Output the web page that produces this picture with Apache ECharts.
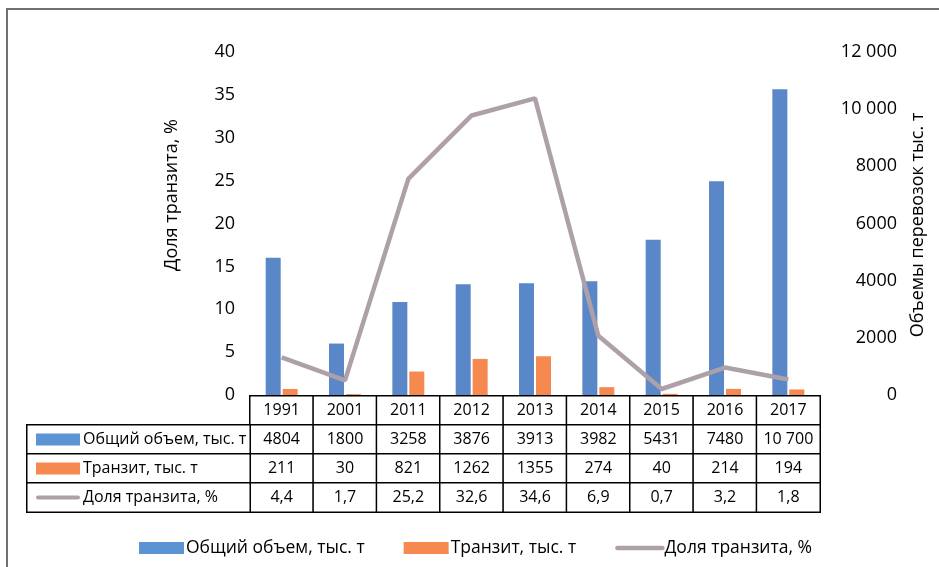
<!DOCTYPE html>
<html>
<head>
<meta charset="utf-8">
<script src="https://cdn.jsdelivr.net/npm/echarts@6/dist/echarts.min.js"></script>
<style>html,body{margin:0;padding:0;background:#fff}#c{width:939px;height:567px}</style>
</head>
<body>
<div id="c"></div>
<script>
const years = ['1991','2001','2011','2012','2013','2014','2015','2016','2017'];
const totalVolume = [4804, 1800, 3258, 3876, 3913, 3982, 5431, 7480, 10700];
const transitVolume = [211, 30, 821, 1262, 1355, 274, 40, 214, 194];
const transitShare = [4.4, 1.7, 25.2, 32.6, 34.6, 6.9, 0.7, 3.2, 1.8];
const seriesNames = ['Общий объем, тыс. т', 'Транзит, тыс. т', 'Доля транзита, %'];
const leftAxisTitle = 'Доля транзита, %';
const rightAxisTitle = 'Объемы перевозок тыс. т';
const leftTicks = [0, 5, 10, 15, 20, 25, 30, 35, 40];
const rightTicks = [0, 2000, 4000, 6000, 8000, 10000, 12000];

const FONT = 'Open Sans';
const BLUE = '#5A87C7';
const BLUE_L = '#5B93D3';
const ORANGE = '#F5894F';
const GRAY = '#ADA0A8';

function fmtThousands(v) {
  return v >= 10000 ? String(v).replace(/\B(?=(\d{3})+(?!\d))/g, ' ') : String(v);
}
function fmtDec(v) { return String(v).replace('.', ','); }

const rows = [
  years,
  totalVolume.map(fmtThousands),
  transitVolume.map(String),
  transitShare.map(fmtDec)
];
const tableData = [];
rows.forEach((r, ri) => r.forEach((_, ci) => tableData.push([ci, ri, ri])));
const headerData = [[0, 0, 0], [0, 1, 1], [0, 2, 2]];

const chart = echarts.init(document.getElementById('c'));
chart.setOption({
  animation: false,
  textStyle: { fontFamily: FONT },
  graphic: [
    { type: 'rect', shape: { x: 7, y: 9, width: 1000, height: 1000 }, style: { fill: 'none', stroke: '#707070', lineWidth: 2 }, silent: true },
    { type: 'text', x: 172, y: 195, rotation: Math.PI / 2, style: { text: leftAxisTitle, font: '18px "Open Sans"', fill: '#000', textAlign: 'center', textVerticalAlign: 'middle' } },
    { type: 'text', x: 918, y: 225, rotation: Math.PI / 2, style: { text: rightAxisTitle, font: '18px "Open Sans"', fill: '#000', textAlign: 'center', textVerticalAlign: 'middle' } }
  ],
  legend: {
    left: 139, top: 539, padding: 0,
    itemWidth: 45, itemHeight: 12, itemGap: 39,
    textStyle: { fontSize: 17.5, color: '#000', fontFamily: FONT, padding: [0, 0, 0, -3] },
    data: [
      { name: seriesNames[0], icon: 'rect', itemStyle: { color: BLUE_L } },
      { name: seriesNames[1], icon: 'rect', itemStyle: { color: ORANGE } },
      { name: seriesNames[2], itemStyle: { color: 'rgba(0,0,0,0)', borderColor: 'rgba(0,0,0,0)', borderWidth: 0 },
        lineStyle: { color: GRAY, width: 4.5, cap: 'round' } }
    ]
  },
  grid: [
    { left: 250, right: 119, top: 52, bottom: 172 },
    { left: 250, right: 119, top: 396, height: 116 },
    { left: 27, width: 223, top: 425, height: 87 }
  ],
  xAxis: [
    { type: 'category', data: years, gridIndex: 0, axisLine: { show: false }, axisTick: { show: false }, axisLabel: { show: false } },
    { type: 'category', data: years, gridIndex: 1, show: false },
    { type: 'category', data: ['h'], gridIndex: 2, show: false }
  ],
  yAxis: [
    { type: 'value', gridIndex: 0, min: leftTicks[0], max: leftTicks[leftTicks.length - 1], interval: leftTicks[1] - leftTicks[0],
      axisLine: { show: false }, axisTick: { show: false }, splitLine: { show: false },
      axisLabel: { fontSize: 18, color: '#000', margin: 15, fontFamily: FONT } },
    { type: 'value', gridIndex: 0, position: 'right', min: rightTicks[0], max: rightTicks[rightTicks.length - 1], interval: rightTicks[1] - rightTicks[0],
      axisLine: { show: false }, axisTick: { show: false }, splitLine: { show: false },
      axisLabel: { fontSize: 18, color: '#000', margin: 77, align: 'right', fontFamily: FONT, formatter: fmtThousands } },
    { type: 'category', gridIndex: 1, data: ['0', '1', '2', '3'], inverse: true, show: false },
    { type: 'category', gridIndex: 2, data: ['1', '2', '3'], inverse: true, show: false }
  ],
  series: [
    { name: seriesNames[0], type: 'bar', xAxisIndex: 0, yAxisIndex: 1, data: totalVolume, barWidth: 15, barGap: '13%', itemStyle: { color: BLUE } },
    { name: seriesNames[1], type: 'bar', xAxisIndex: 0, yAxisIndex: 1, data: transitVolume, barWidth: 15, itemStyle: { color: ORANGE } },
    { name: seriesNames[2], type: 'line', xAxisIndex: 0, yAxisIndex: 0, data: transitShare, symbol: 'none', lineStyle: { color: GRAY, width: 4.5 }, itemStyle: { color: GRAY } },
    { type: 'heatmap', xAxisIndex: 1, yAxisIndex: 2, data: tableData, silent: true,
      itemStyle: { color: '#fff', borderColor: '#000', borderWidth: 1.5 },
      emphasis: { disabled: true },
      label: { show: true, color: '#000', fontSize: 16, fontFamily: FONT,
        formatter: p => rows[p.value[1]][p.value[0]] } },
    { type: 'heatmap', xAxisIndex: 2, yAxisIndex: 3, data: headerData, silent: true,
      itemStyle: { color: '#fff', borderColor: '#000', borderWidth: 1.5 },
      emphasis: { disabled: true },
      label: { show: true, color: '#000', fontSize: 16, fontFamily: FONT, position: 'insideLeft', distance: 10,
        formatter: p => ['{b|}', '{o|}', '{l|}'][p.value[2]] + '{t|' + seriesNames[p.value[2]] + '}',
        rich: {
          b: { width: 44, height: 12, backgroundColor: BLUE_L, verticalAlign: 'middle' },
          o: { width: 44, height: 12, backgroundColor: ORANGE, verticalAlign: 'middle' },
          l: { width: 44, height: 4, backgroundColor: GRAY, borderRadius: 2, verticalAlign: 'middle' },
          t: { fontSize: 16, color: '#000', fontFamily: FONT, padding: [0, 0, 0, 3], verticalAlign: 'middle' }
        } } }
  ]
});
</script>
</body>
</html>
